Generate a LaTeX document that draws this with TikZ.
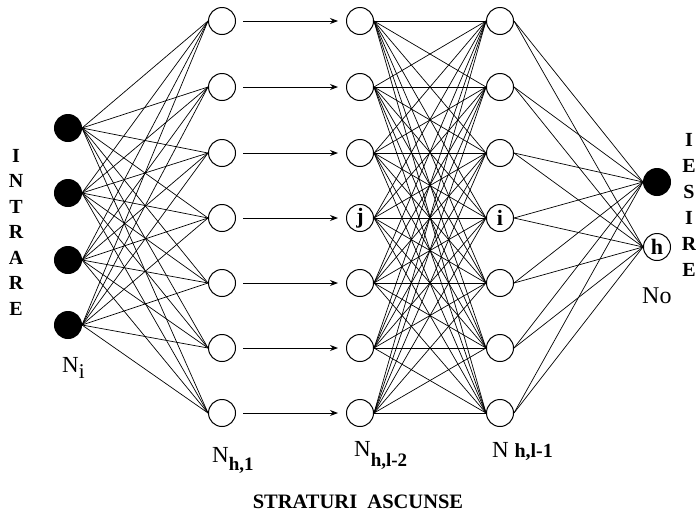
\documentclass[tikz,border=0pt]{standalone}
\usepackage{fontspec}
\setmainfont{Liberation Serif}
\usetikzlibrary{arrows.meta}
\begin{document}
\begin{tikzpicture}[x=1pt,y=-1pt,
 neuron/.style={circle,draw,line width=1pt,minimum size=27pt,inner sep=0pt,font=\fontsize{22}{22}\selectfont\bfseries},
 inneuron/.style={neuron,fill=black},
 conn/.style={line width=0.7pt},
 flow/.style={line width=0.9pt,-{Stealth[length=8pt,width=6pt]}},
 side/.style={inner sep=0pt,align=center},
 lab/.style={font=\fontsize{23}{23}\selectfont, inner sep=0pt, anchor=base west}]
\useasboundingbox (0,0) rectangle (696,512);
% input layer
\foreach \i/\y in {1/128,2/193,3/260,4/325} \node[inneuron] (in\i) at (68,\y) {};
% hidden layers
\foreach \i/\y in {1/21,2/87,3/153,4/218,5/283,6/348,7/413} {
  \node[neuron] (a\i) at (222,\y) {};
}
\foreach \i/\y/\t in {1/21/,2/87/,3/153/,4/218/j,5/283/,6/348/,7/413/} {
  \node[neuron] (b\i) at (360,\y) {\t};
}
\foreach \i/\y/\t in {1/21/,2/87/,3/153/,4/218/i,5/283/,6/348/,7/413/} {
  \node[neuron] (c\i) at (500,\y) {\t};
}
% output layer
\node[inneuron] (o1) at (657,182) {};
\node[neuron] (o2) at (657,247) {h};
% connections
\foreach \i in {1,...,4} \foreach \j in {1,...,7} \draw[conn] (in\i.east) -- (a\j.west);
\foreach \j in {1,...,7} \draw[flow] ([xshift=7pt]a\j.east) -- ([xshift=-8pt]b\j.west);
\foreach \i in {1,...,7} \foreach \j in {1,...,7} \draw[conn] (b\i.east) -- (c\j.west);
\foreach \i in {1,...,7} \foreach \j in {1,2} \draw[conn] (c\i.east) -- (o\j.west);
% labels
\node[side,font=\fontsize{20}{25.5}\selectfont\bfseries] (intrare) at (16,232) {I\\N\\T\\R\\A\\R\\E};
\node[side,font=\fontsize{20}{26}\selectfont\bfseries] (iesire) at (689,205) {I\\E\\S\\I\\R\\E};
\node[lab] (ni) at (62,372) {N\raisebox{-6pt}{\fontsize{21}{21}\selectfont i}};
\node[lab] (nh1) at (212,462) {N\raisebox{-8pt}{\fontsize{19}{19}\selectfont\bfseries h,1}};
\node[lab] (nhl2) at (354,456) {N\raisebox{-10pt}{\fontsize{19}{19}\selectfont\bfseries h,l-2}};
\node[lab] (nhl1) at (492,457) {N {\fontsize{20}{20}\selectfont\bfseries h,l-1}};
\node[lab,font=\fontsize{24}{24}\selectfont] (no) at (642,303) {No};
\node[side,font=\fontsize{20.5}{20.5}\selectfont\bfseries] (hidden) at (358,502) {STRATURI\ \ ASCUNSE};
\end{tikzpicture}
\end{document}
